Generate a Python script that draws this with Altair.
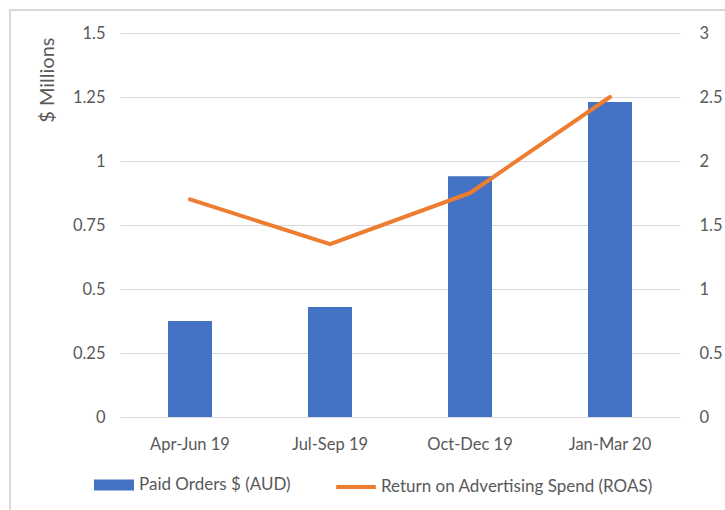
import altair as alt
import pandas as pd

quarters = ["Apr-Jun 19", "Jul-Sep 19", "Oct-Dec 19", "Jan-Mar 20"]
paid_orders_millions = [0.375, 0.43, 0.94, 1.23]
roas = [1.70, 1.35, 1.75, 2.50]
left_ticks = [0, 0.25, 0.5, 0.75, 1, 1.25, 1.5]
right_ticks = [0, 0.5, 1, 1.5, 2, 2.5, 3]
bar_series = "Paid Orders $ (AUD)"
line_series = "Return on Advertising Spend (ROAS)"

df = pd.DataFrame({
    "quarter": quarters,
    "orders": paid_orders_millions,
    "roas": roas,
    "bar_series": [bar_series] * len(quarters),
    "line_series": [line_series] * len(quarters),
})

FONT = "Lato"
GREY = "#595959"
GRID = "#d9d9d9"
FS = 16.5
LFS = 17

x = alt.X("quarter:N", sort=quarters, title=None,
          scale=alt.Scale(paddingInner=0, paddingOuter=0),
          axis=alt.Axis(labelAngle=0, ticks=False, domain=False, grid=False, labelPadding=19,
                        labelFontSize=FS, labelColor=GREY, labelFont=FONT))

border = alt.Chart(df).mark_rect(fill="white", fillOpacity=0, stroke=GRID, strokeWidth=1.5).encode(
    x=alt.value(-110), x2=alt.value(700), y=alt.value(-23), y2=alt.value(500)
)

bars = alt.Chart(df).mark_bar(size=44).encode(
    x=x,
    y=alt.Y("orders:Q", title="$ Millions",
            scale=alt.Scale(domain=[0, 1.5], nice=False),
            axis=alt.Axis(values=left_ticks, labelExpr="'' + datum.value",
                          ticks=False, domain=False, grid=True, gridColor=GRID, gridWidth=1.2,
                          labelPadding=15, labelFontSize=FS, labelColor=GREY, labelFont=FONT,
                          titleFont=FONT, titleFontSize=20, titleFontWeight="normal",
                          titleColor=GREY, titleAnchor="end", titleX=-63, titleY=4,
                          titleAlign="right")),
    color=alt.Color("bar_series:N", scale=alt.Scale(domain=[bar_series], range=["#4472C4"]),
                    legend=alt.Legend(title=None, orient="none", legendX=-26, legendY=432,
                                      symbolType="M-1,-0.275H1V0.275H-1Z", symbolSize=1600,
                                      symbolStrokeWidth=0, labelFont=FONT, labelFontSize=LFS,
                                      labelColor=GREY, labelOffset=5, labelLimit=400)),
)

line = alt.Chart(df).mark_line(strokeWidth=4, strokeCap="round", strokeJoin="round").encode(
    x=x,
    y=alt.Y("roas:Q", title=None,
            scale=alt.Scale(domain=[0, 3], nice=False),
            axis=alt.Axis(orient="right", values=right_ticks, labelExpr="'' + datum.value",
                          ticks=False, domain=False, grid=False,
                          labelPadding=19, labelFontSize=FS, labelColor=GREY, labelFont=FONT)),
    stroke=alt.Stroke("line_series:N", scale=alt.Scale(domain=[line_series], range=["#ED7D31"]),
                      legend=alt.Legend(title=None, orient="none", legendX=212, legendY=430,
                                        symbolType="M-0.9,0H0.9", symbolSize=1936,
                                        symbolStrokeWidth=4, labelFont=FONT, labelFontSize=LFS,
                                        labelColor=GREY, labelOffset=1, labelLimit=400)),
)

chart = alt.layer(border, bars, line).resolve_scale(
    y="independent", color="independent", stroke="independent"
).properties(
    width=560, height=384,
    background="white",
    autosize=alt.AutoSizeParams(type="none"),
    padding={"left": 120, "top": 33, "right": 45, "bottom": 93},
).configure_view(stroke="transparent", strokeWidth=0)

chart.save("out.html", embed_options={"renderer": "svg", "actions": False})
